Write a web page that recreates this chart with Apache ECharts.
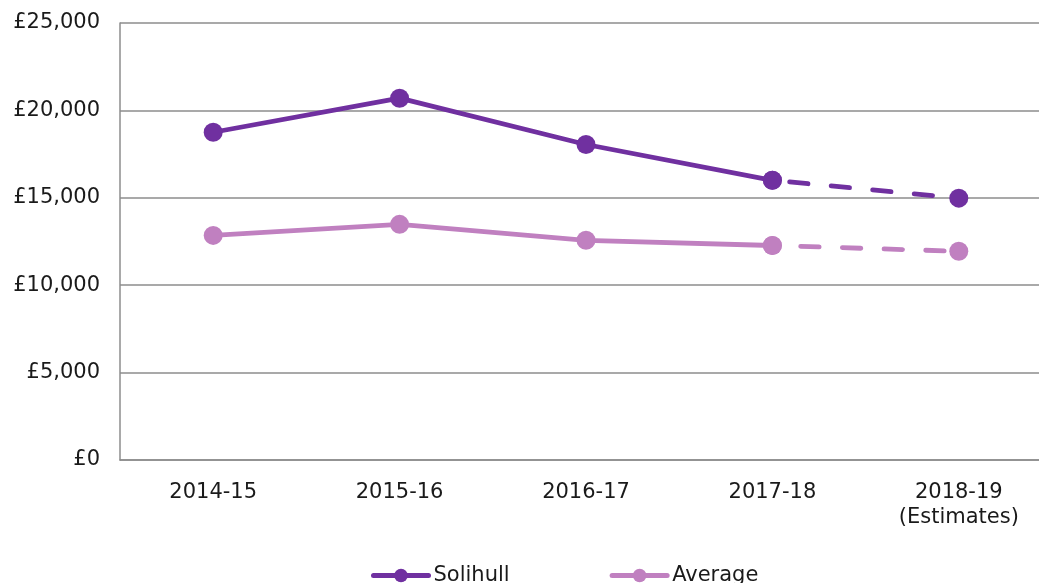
<!DOCTYPE html>
<html>
<head>
<meta charset="utf-8">
<script src="https://cdn.jsdelivr.net/npm/echarts@6/dist/echarts.min.js"></script>
<style>html,body{margin:0;padding:0;background:#fff}#c{width:1039px;height:583px}</style>
</head>
<body>
<div id="c"></div>
<script>
const categories = ['2014-15', '2015-16', '2016-17', '2017-18', '2018-19\n(Estimates)'];
const solihull = [18750, 20700, 18050, 16000, 14980];
const average = [12850, 13480, 12570, 12270, 11940];
const yTicks = { min: 0, max: 25000, interval: 5000 };
const estimateStart = 3; // index where estimates (dashed) begin

const purple = '#7030A0';
const lilac = '#C080C0';
const font = 'DejaVu Sans, Verdana, sans-serif';

function solidPart(arr) { return arr.map((v, i) => i <= estimateStart ? v : null); }
function dashPart(arr) { return arr.map((v, i) => i >= estimateStart ? v : null); }

const chart = echarts.init(document.getElementById('c'), null, { renderer: 'canvas' });
const lineBase = (name, data, color, dashed, dashOffset) => ({
  name: name,
  type: 'line',
  data: data,
  symbol: 'circle',
  symbolSize: 19,
  showSymbol: true,
  connectNulls: false,
  itemStyle: { color: color },
  lineStyle: {
    color: color, width: 4.8,
    type: dashed ? [18.5, 23.2] : 'solid',
    dashOffset: dashOffset || 0,
    cap: 'round'
  },
  emphasis: { disabled: true },
  z: dashed ? 2 : 3
});

chart.setOption({
  animation: false,
  textStyle: { fontFamily: font },
  grid: { left: 120, top: 23, right: -13, bottom: 123, containLabel: false, outerBoundsMode: 'none' },
  legend: {
    data: ['Solihull', 'Average'],
    left: 366,
    top: 560,
    itemWidth: 55,
    itemHeight: 17,
    itemGap: 100,
    lineStyle: { width: 5 },
    textStyle: { fontFamily: font, fontSize: 21, color: '#1a1a1a' }
  },
  xAxis: {
    type: 'category',
    data: categories,
    boundaryGap: true,
    axisLine: { show: true, lineStyle: { color: '#8c8c8c', width: 1.5 } },
    axisTick: { show: false },
    axisLabel: { fontFamily: font, fontSize: 21, color: '#1a1a1a', margin: 20, lineHeight: 25 }
  },
  yAxis: {
    type: 'value',
    min: yTicks.min,
    max: yTicks.max,
    interval: yTicks.interval,
    axisLine: { show: true, lineStyle: { color: '#8c8c8c', width: 1.5 } },
    axisTick: { show: false },
    splitLine: { show: true, lineStyle: { color: '#8c8c8c', width: 1.5 } },
    axisLabel: {
      fontFamily: font, fontSize: 21, color: '#1a1a1a', margin: 20,
      formatter: v => '£' + v.toLocaleString('en-GB')
    }
  },
  series: [
    lineBase('Solihull', solidPart(solihull), purple, false),
    lineBase('Solihull est', dashPart(solihull), purple, true, 24.4),
    lineBase('Average', solidPart(average), lilac, false),
    lineBase('Average est', dashPart(average), lilac, true, 13.4)
  ]
});
</script>
</body>
</html>
